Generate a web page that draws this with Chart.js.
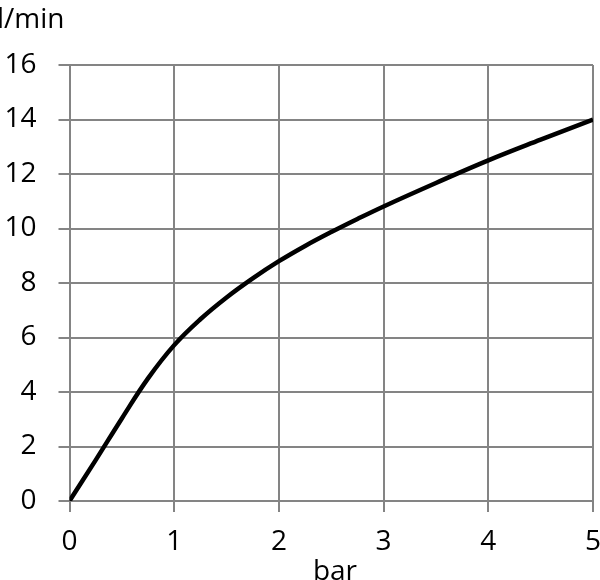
<!DOCTYPE html>
<html>
<head>
<meta charset="utf-8">
<script src="https://cdn.jsdelivr.net/npm/chart.js@4"></script>
<style>
  body { margin: 0; background: #fff; }
  #wrap { width: 600px; height: 580px; }
</style>
</head>
<body>
<div id="wrap"><canvas id="grafica"></canvas></div>
<script>
  // pressure (bar) vs flow (l/min)
  const presion = [0, 0.25, 0.5, 0.75, 1, 1.25, 1.5, 1.75, 2, 2.25, 2.5, 2.75, 3, 3.5, 4, 4.5, 5];
  const caudal  = [0, 1.5, 3.03, 4.5, 5.72, 6.67, 7.47, 8.17, 8.8, 9.36, 9.87, 10.35, 10.81, 11.67, 12.5, 13.26, 14.0];
  const yTitulo = 'l/min';
  const xTitulo = 'bar';

  const puntos = presion.map((p, i) => ({ x: p, y: caudal[i] }));
  const fuente = "'Open Sans', 'Liberation Sans', sans-serif";
  const gris = '#848484';

  // texts outside the axes
  const textos = {
    id: 'textos',
    afterDraw(chart) {
      const ctx = chart.ctx;
      ctx.save();
      ctx.fillStyle = '#000';
      ctx.font = '28px ' + fuente;
      ctx.textBaseline = 'alphabetic';
      ctx.textAlign = 'left';
      ctx.fillText(yTitulo, -3, 28);
      ctx.textAlign = 'center';
      ctx.fillText(xTitulo, 335, 580);
      ctx.restore();
    }
  };

  const config = {
    type: 'line',
    data: {
      datasets: [{
        data: puntos,
        borderColor: '#000',
        borderWidth: 4.5,
        pointRadius: 0,
        tension: 0.4,
        fill: false
      }]
    },
    options: {
      responsive: true,
      maintainAspectRatio: false,
      animation: false,
      layout: { padding: { top: 65, right: 0, left: 0, bottom: 0 } },
      plugins: { legend: { display: false }, tooltip: { enabled: false } },
      scales: {
        x: {
          type: 'linear',
          min: 0, max: 5,
          grid: { color: gris, lineWidth: 2, tickLength: 11 },
          border: { color: gris, width: 2 },
          ticks: { stepSize: 1, color: '#000', padding: 13, font: { size: 28, family: fuente } },
          afterFit(s) { s.height = 79; s.paddingRight = 7; s.paddingLeft = 0; }
        },
        y: {
          min: 0, max: 16,
          grid: { color: gris, lineWidth: 2, tickLength: 11 },
          border: { color: gris, width: 2 },
          ticks: { stepSize: 2, color: '#000', padding: 22, font: { size: 28, family: fuente } },
          afterFit(s) { s.width = 69.5; s.paddingTop = 0; }
        }
      }
    },
    plugins: [textos]
  };

  const grafica = new Chart(document.getElementById('grafica'), config);
</script>
</body>
</html>
